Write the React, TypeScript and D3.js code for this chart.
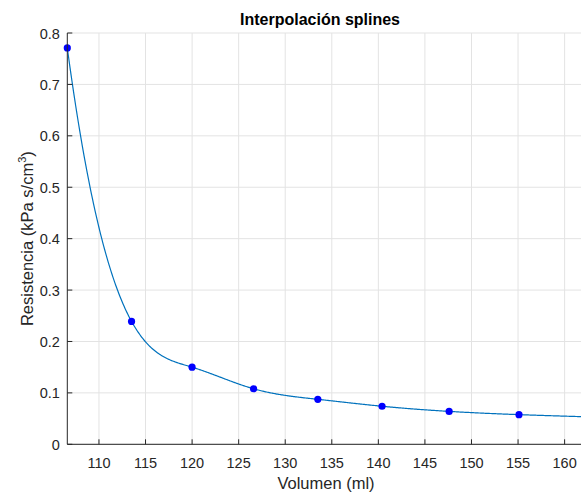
import React from "react";
import * as d3 from "d3";

// Measured volume (ml) and airway resistance (kPa s/cm³)
const volumen = [106.6, 113.5, 120.0, 126.6, 133.5, 140.4, 147.6, 155.1];
const resistencia = [0.771, 0.239, 0.15, 0.108, 0.0875, 0.074, 0.064, 0.0577];
const xTicks = [110, 115, 120, 125, 130, 135, 140, 145, 150, 155, 160];
const yTicks = [0, 0.1, 0.2, 0.3, 0.4, 0.5, 0.6, 0.7, 0.8];

const W = 581;
const H = 495;
const X_DOMAIN: [number, number] = [106.6, 162];
const Y_DOMAIN: [number, number] = [0, 0.8];

// Cubic spline with not-a-knot end conditions (second-derivative form)
function splineSecondDerivs(x: number[], y: number[]): number[] {
  const n = x.length;
  const h = d3.range(n - 1).map((i) => x[i + 1] - x[i]);
  const A: number[][] = d3.range(n).map(() => new Array(n).fill(0));
  const b: number[] = new Array(n).fill(0);
  A[0][0] = h[1];
  A[0][1] = -(h[0] + h[1]);
  A[0][2] = h[0];
  for (let i = 1; i < n - 1; i++) {
    A[i][i - 1] = h[i - 1];
    A[i][i] = 2 * (h[i - 1] + h[i]);
    A[i][i + 1] = h[i];
    b[i] = 6 * ((y[i + 1] - y[i]) / h[i] - (y[i] - y[i - 1]) / h[i - 1]);
  }
  A[n - 1][n - 3] = h[n - 2];
  A[n - 1][n - 2] = -(h[n - 3] + h[n - 2]);
  A[n - 1][n - 1] = h[n - 3];
  // Gaussian elimination with partial pivoting
  for (let c = 0; c < n; c++) {
    let p = c;
    for (let r = c + 1; r < n; r++) if (Math.abs(A[r][c]) > Math.abs(A[p][c])) p = r;
    [A[c], A[p]] = [A[p], A[c]];
    [b[c], b[p]] = [b[p], b[c]];
    for (let r = c + 1; r < n; r++) {
      const f = A[r][c] / A[c][c];
      for (let k = c; k < n; k++) A[r][k] -= f * A[c][k];
      b[r] -= f * b[c];
    }
  }
  const M = new Array(n).fill(0);
  for (let r = n - 1; r >= 0; r--) {
    let s = b[r];
    for (let k = r + 1; k < n; k++) s -= A[r][k] * M[k];
    M[r] = s / A[r][r];
  }
  return M;
}

function evalSpline(x: number[], y: number[], M: number[], xv: number): number {
  const n = x.length;
  let i = d3.bisectRight(x, xv) - 1;
  i = Math.max(0, Math.min(n - 2, i));
  const h = x[i + 1] - x[i];
  const t = xv - x[i];
  const slope = (y[i + 1] - y[i]) / h - (h * (2 * M[i] + M[i + 1])) / 6;
  return y[i] + slope * t + (M[i] / 2) * t * t + ((M[i + 1] - M[i]) / (6 * h)) * t * t * t;
}

export default function App() {
  const left = 67.3;
  const top = 33;
  const bottom = 444.3;
  const right = left + (X_DOMAIN[1] - X_DOMAIN[0]) * 9.313;

  const x = d3.scaleLinear().domain(X_DOMAIN).range([left, right]);
  const y = d3.scaleLinear().domain(Y_DOMAIN).range([bottom, top]);

  const M = splineSecondDerivs(volumen, resistencia);
  const curvePts: [number, number][] = d3
    .range(X_DOMAIN[0], X_DOMAIN[1] + 0.001, 0.1)
    .map((v) => [v, evalSpline(volumen, resistencia, M, v)]);
  const line = d3
    .line<[number, number]>()
    .x((d) => x(d[0]))
    .y((d) => y(d[1]));

  const axisColor = "#262626";
  const gridColor = "#e3e3e3";
  const font = "'Liberation Sans', Arial, Helvetica, sans-serif";

  return (
    <svg
      width={W}
      height={H}
      style={{ position: "absolute", left: 0, top: 0, background: "#fff" }}
      fontFamily={font}
    >
      <defs>
        <clipPath id="plotArea">
          <rect x={left} y={top} width={right - left} height={bottom - top} />
        </clipPath>
      </defs>
      {/* grid */}
      {xTicks.map((t) => (
        <line key={"gx" + t} x1={x(t)} x2={x(t)} y1={top} y2={bottom} stroke={gridColor} strokeWidth={1} />
      ))}
      {yTicks.map((t) => (
        <line key={"gy" + t} x1={left} x2={right} y1={y(t)} y2={y(t)} stroke={gridColor} strokeWidth={1} />
      ))}
      {/* spline curve and measured points */}
      <g clipPath="url(#plotArea)">
        <path d={line(curvePts) || ""} fill="none" stroke="#0072BD" strokeWidth={1.2} />
      </g>
      {volumen.map((v, i) => (
        <circle key={"p" + i} cx={x(v)} cy={y(resistencia[i])} r={3.6} fill="#0000ff" />
      ))}
      {/* axes */}
      <line x1={left} x2={left} y1={top} y2={bottom} stroke={axisColor} strokeWidth={1} />
      <line x1={left} x2={right} y1={bottom} y2={bottom} stroke={axisColor} strokeWidth={1} />
      {xTicks.map((t) => (
        <g key={"tx" + t}>
          <line x1={x(t)} x2={x(t)} y1={bottom} y2={bottom - 5} stroke={axisColor} />
          <text x={x(t)} y={bottom + 24} textAnchor="middle" fontSize={14.5} fill={axisColor}>
            {t}
          </text>
        </g>
      ))}
      {yTicks.map((t) => (
        <g key={"ty" + t}>
          <line x1={left} x2={left + 5} y1={y(t)} y2={y(t)} stroke={axisColor} />
          <text x={left - 7.5} y={y(t) + 5.5} textAnchor="end" fontSize={14.5} fill={axisColor}>
            {t}
          </text>
        </g>
      ))}
      {/* titles */}
      <text x={320} y={25} textAnchor="middle" fontSize={16} fontWeight="bold" fill="#000">
        Interpolación splines
      </text>
      <text x={326} y={489} textAnchor="middle" fontSize={16.5} fill={axisColor}>
        Volumen (ml)
      </text>
      <text
        transform={`translate(33, ${(top + bottom) / 2}) rotate(-90)`}
        textAnchor="middle"
        fontSize={16.5}
        fill={axisColor}
      >
        Resistencia (kPa s/cm
        <tspan dy={-7} fontSize={11}>3</tspan>
        <tspan dy={7}>)</tspan>
      </text>
    </svg>
  );
}
